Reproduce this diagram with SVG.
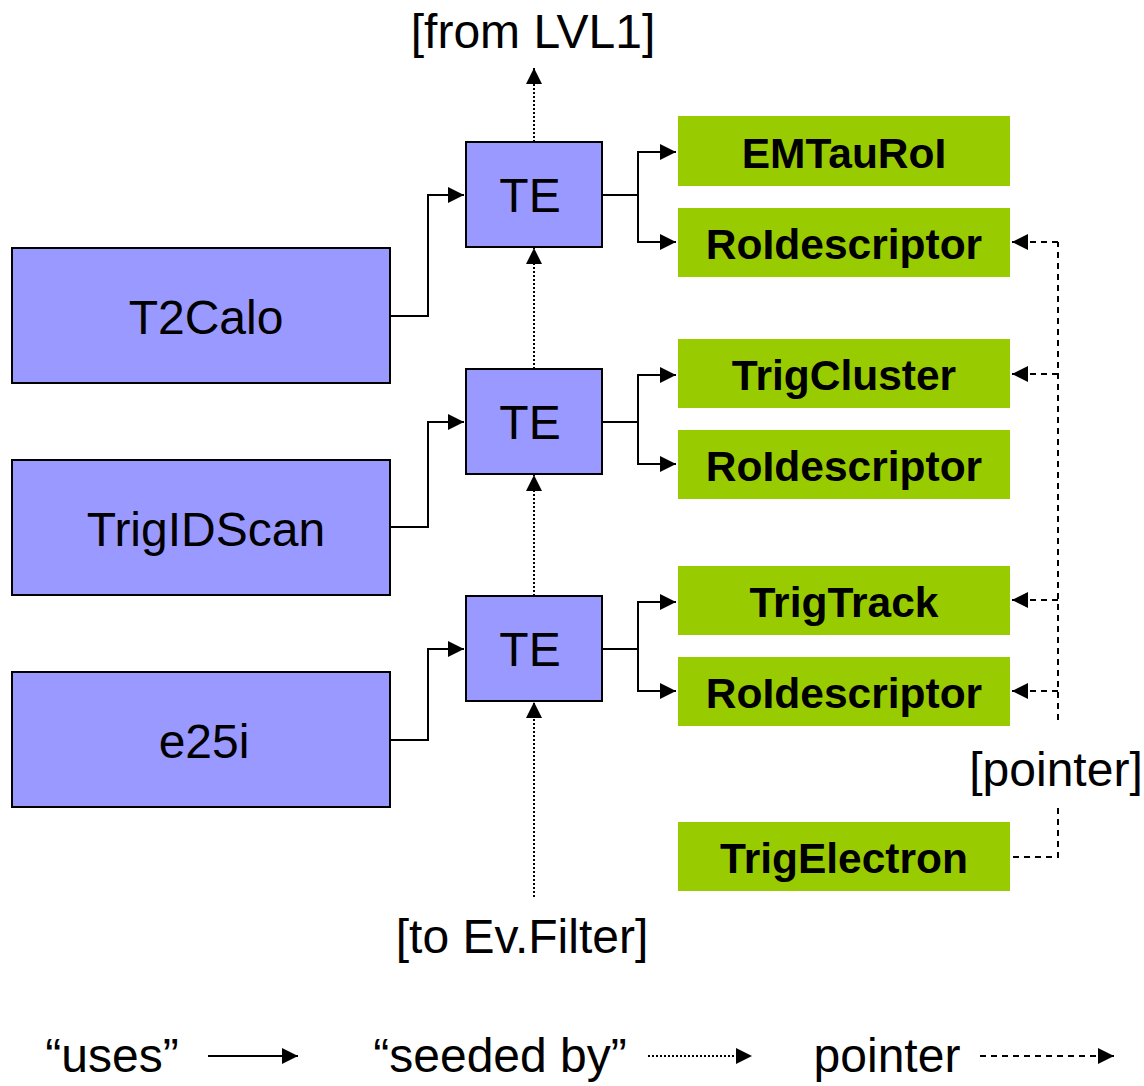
<svg xmlns="http://www.w3.org/2000/svg" width="1144" height="1086" viewBox="0 0 1144 1086">
<style>
.alg{fill:#9999ff;stroke:#000;stroke-width:2}
.te{fill:#9999ff;stroke:#000;stroke-width:2}
.obj{fill:#99cc00}
.t{font-family:"Liberation Sans",Arial,sans-serif;font-size:48px;fill:#000;text-anchor:middle}
.tb{font-family:"Liberation Sans",Arial,sans-serif;font-size:42.5px;font-weight:bold;fill:#000;text-anchor:middle}
.uses{fill:none;stroke:#000;stroke-width:2}
.seed{fill:none;stroke:#000;stroke-width:2;stroke-dasharray:2 2}
.ptr{fill:none;stroke:#000;stroke-width:2;stroke-dasharray:6 5}
</style>
<defs>
<marker id="ah" viewBox="0 0 10 10" refX="10" refY="5" markerWidth="16" markerHeight="16" markerUnits="userSpaceOnUse" orient="auto">
<path d="M0,0 L10,5 L0,10 z" fill="#000"/>
</marker>
</defs>
<rect width="1144" height="1086" fill="#fff"/>
<g id="connectors">
<path class="uses" d="M390,316 H428 V195 H464" marker-end="url(#ah)"/>
<path class="uses" d="M390,527 H428 V422 H464" marker-end="url(#ah)"/>
<path class="uses" d="M390,740 H428 V649 H464" marker-end="url(#ah)"/>
<path class="uses" d="M602,195 H638 V152 H676" marker-end="url(#ah)"/>
<path class="uses" d="M638,195 V242 H676" marker-end="url(#ah)"/>
<path class="uses" d="M602,422 H638 V375 H676" marker-end="url(#ah)"/>
<path class="uses" d="M638,422 V464 H676" marker-end="url(#ah)"/>
<path class="uses" d="M602,649 H638 V602 H676" marker-end="url(#ah)"/>
<path class="uses" d="M638,649 V691 H676" marker-end="url(#ah)"/>
<path class="seed" d="M534,142 V68" marker-end="url(#ah)"/>
<path class="seed" d="M534,369 V248" marker-end="url(#ah)"/>
<path class="seed" d="M534,596 V475" marker-end="url(#ah)"/>
<path class="seed" d="M534,897 V702" marker-end="url(#ah)"/>
<path class="ptr" d="M1058,720 V242"/>
<path class="ptr" d="M1058,242 H1012" marker-end="url(#ah)"/>
<path class="ptr" d="M1058,374 H1012" marker-end="url(#ah)"/>
<path class="ptr" d="M1058,600 H1012" marker-end="url(#ah)"/>
<path class="ptr" d="M1058,691 H1012" marker-end="url(#ah)"/>
<path class="ptr" d="M1058,808 V857 H1010"/>
</g>
<g id="T2Calo"><rect class="alg" x="12" y="248" width="378" height="135"/><text class="t" x="206" y="334">T2Calo</text></g>
<g id="TrigIDScan"><rect class="alg" x="12" y="460" width="378" height="135"/><text class="t" x="206" y="546">TrigIDScan</text></g>
<g id="e25i"><rect class="alg" x="12" y="672" width="378" height="135"/><text class="t" x="204" y="758">e25i</text></g>
<g id="TE1"><rect class="te" x="466" y="142" width="136" height="105"/><text class="t" x="530" y="212">TE</text></g>
<g id="TE2"><rect class="te" x="466" y="369" width="136" height="105"/><text class="t" x="530" y="439">TE</text></g>
<g id="TE3"><rect class="te" x="466" y="596" width="136" height="105"/><text class="t" x="530" y="666">TE</text></g>
<g id="EMTauRoI"><rect class="obj" x="678" y="116" width="332" height="70"/><text class="tb" x="844" y="168">EMTauRoI</text></g>
<g id="RoIdescriptor1"><rect class="obj" x="678" y="208" width="332" height="69"/><text class="tb" x="844" y="259">RoIdescriptor</text></g>
<g id="TrigCluster"><rect class="obj" x="678" y="339" width="332" height="69"/><text class="tb" x="844" y="390">TrigCluster</text></g>
<g id="RoIdescriptor2"><rect class="obj" x="678" y="430" width="332" height="69"/><text class="tb" x="844" y="481">RoIdescriptor</text></g>
<g id="TrigTrack"><rect class="obj" x="678" y="566" width="332" height="69"/><text class="tb" x="844" y="617">TrigTrack</text></g>
<g id="RoIdescriptor3"><rect class="obj" x="678" y="657" width="332" height="69"/><text class="tb" x="844" y="708">RoIdescriptor</text></g>
<g id="TrigElectron"><rect class="obj" x="678" y="822" width="332" height="69"/><text class="tb" x="844" y="873">TrigElectron</text></g>
<g id="labels">
<text class="t" x="533" y="48">[from LVL1]</text>
<text class="t" x="522" y="953">[to Ev.Filter]</text>
<text class="t" x="1056" y="786">[pointer]</text>
</g>
<g id="legend">
<text class="t" x="112" y="1072">“uses”</text>
<path class="uses" d="M208,1056 H298" marker-end="url(#ah)"/>
<text class="t" x="500" y="1072">“seeded by”</text>
<path class="seed" d="M648,1056 H752" marker-end="url(#ah)"/>
<text class="t" x="887" y="1072">pointer</text>
<path class="ptr" d="M980,1056 H1114" marker-end="url(#ah)"/>
</g>
</svg>
